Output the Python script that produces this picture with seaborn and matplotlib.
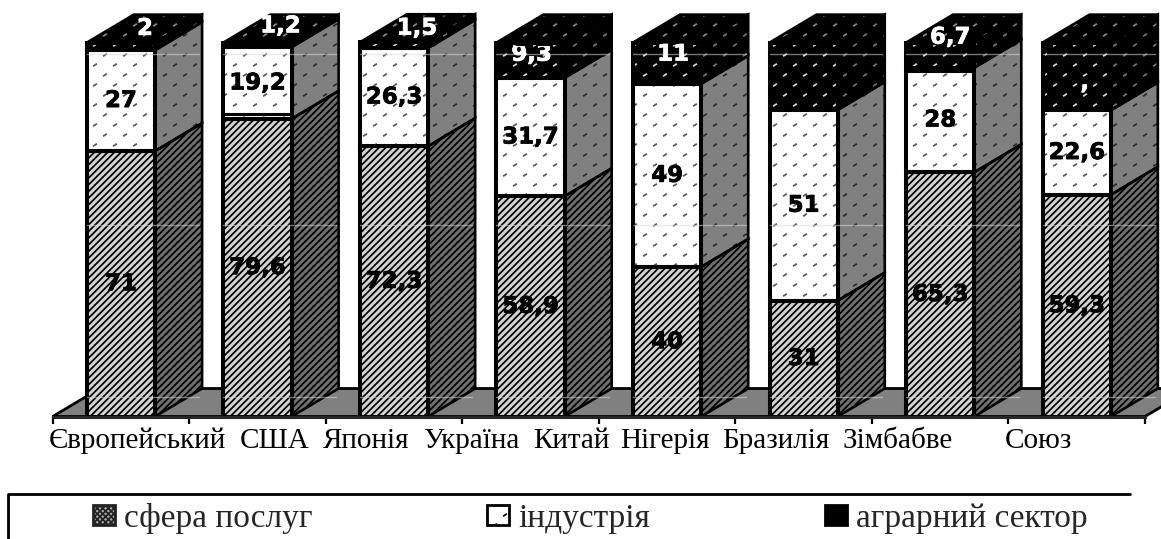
import matplotlib
matplotlib.use('Agg')
import numpy as np
import matplotlib.pyplot as plt
import matplotlib.hatch as mhatch
import matplotlib.patheffects as pe
import matplotlib.transforms as mtrans
from matplotlib.path import Path
from matplotlib.patches import Polygon, Patch
import seaborn as sns

sns.set_style('white')
plt.rcParams['font.family'] = ['Liberation Serif', 'DejaVu Serif']
plt.rcParams['hatch.linewidth'] = 1.25

countries = ['Європейський', 'США', 'Японія', 'Україна', 'Китай', 'Нігерія', 'Бразилія', 'Зімбабве', 'Союз']
bar_names = ['B1', 'B2', 'B3', 'B4', 'B5', 'B6', 'B7', 'B8']
services = [71, 79.6, 72.3, 58.9, 40, 31, 65.3, 59.3]
industry = [27, 19.2, 26.3, 31.7, 49, 51, 28, 22.6]
agrarian = [2, 1.2, 1.5, 9.4, 11, 18, 6.7, 18.1]

services_lab = ['71', '79,6', '72,3', '58,9', '40', '31', '65,3', '59,3']
industry_lab = ['27', '19,2', '26,3', '31,7', '49', '51', '28', '22,6']
agrarian_lab = ['2', '1,2', '1,5', '9,3', '11', '', '6,7', ',']
agrarian_off = [(24, 18), (23, 19), (23, 17), (1, 6), (6, 9), (0, 0), (10, 18), (8, -6)]

label_centres = [137.5, 275, 366, 471, 571, 665, 776, 898, 1038]
series_names = ['сфера послуг', 'індустрія', 'аграрний сектор']

W, H = 1161, 539
DX = 47 / 136.6
DY = 28 / 3.74


# small slanted flecks instead of the round '.' hatch, same look as the original fill
class Flecks(mhatch.HatchPatternBase):
    def __init__(self, hatch, density):
        self.on = '.' in hatch
        self.num_vertices = 2 * 5 * 10 if self.on else 0

    def set_vertices_and_codes(self, vertices, codes):
        if not self.on:
            return
        pts = []
        for row in range(10):
            for col in range(5):
                x = (col + 0.5 * (row % 2)) / 5 + 0.05
                y = row / 10 + 0.05
                pts += [(x - 0.012, y - 0.008), (x + 0.012, y + 0.008)]
        vertices[:] = np.array(pts)
        codes[0::2] = Path.MOVETO
        codes[1::2] = Path.LINETO


mhatch._hatch_types = [h for h in mhatch._hatch_types if h is not mhatch.SmallFilledCircles] + [Flecks]

fig = plt.figure(figsize=(W / 100, H / 100), dpi=100)
ax = fig.add_axes([52.7 / W, 1 - 416.5 / H, (1145 - 52.7) / W, 375 / H])

styles = [
    dict(face='#d4d4d4', hatch_col='#000000', hatch='/////', side='#707070', side_hatch='#000000', side_pat='/////'),
    dict(face='#ffffff', hatch_col='#555555', hatch='.', side='#808080', side_hatch='#2a2a2a', side_pat='.'),
    dict(face='#000000', hatch_col='#d8d8d8', hatch='.', side='#000000', side_hatch='#777777', side_pat='.'),
]

level1 = list(services)
level2 = [a + b for a, b in zip(services, industry)]
level3 = [a + b + c for a, b, c in zip(services, industry, agrarian)]

# tallest first, the lower bars cover it
for vals, st in zip([level3, level2, level1], styles[::-1]):
    sns.barplot(x=bar_names, y=vals, color=st['face'], saturation=1, width=0.5,
                linewidth=0, edgecolor=st['hatch_col'], hatch=st['hatch'], ax=ax, zorder=3)

ax.set_xlim(-0.5, 7.5)
ax.set_ylim(0, 100.3)

# floor
ax.add_patch(Polygon([(-0.5, 0), (-0.5 + DX, DY), (7.5 + DX, DY), (7.5, 0)], closed=True, facecolor='#808080',
                     edgecolor='black', linewidth=2, clip_on=False, zorder=1))

lowers = [[0] * 8, level1, level2]
uppers = [level1, level2, level3]
half = 0.25
for k, st in enumerate(styles):
    for i in range(8):
        lo, up = lowers[k][i], uppers[k][i]
        l, r = i - half, i + half
        quad = [(r, lo), (r + DX, lo + DY), (r + DX, up + DY), (r, up)]
        ax.add_patch(Polygon(quad, closed=True, facecolor=st['side'], edgecolor=st['side_hatch'],
                             hatch=st['side_pat'], linewidth=0, clip_on=False, zorder=3))
        ax.add_patch(Polygon(quad, closed=True, fill=False, edgecolor='black', linewidth=1.9,
                             clip_on=False, zorder=4))
        ax.add_patch(Polygon([(l, lo), (r, lo), (r, up), (l, up)], closed=True, fill=False,
                             edgecolor='black', linewidth=2.9, clip_on=False, zorder=4))

# lids
for i in range(8):
    l, r, up = i - half, i + half, level3[i]
    lid = [(l, up), (l + DX, up + DY), (r + DX, up + DY), (r, up)]
    ax.add_patch(Polygon(lid, closed=True, facecolor='black', edgecolor='#8a8a8a', hatch='.',
                         linewidth=0, clip_on=False, zorder=3))
    ax.add_patch(Polygon(lid, closed=True, fill=False, edgecolor='black', linewidth=1.9,
                         clip_on=False, zorder=4))
    # faint light lines across the bars
    for v in (5.3, 51.1, 97):
        ax.plot([l, r + DX - 0.02], [v, v], color='#d8d8d8', alpha=0.55, linewidth=1, zorder=5, clip_on=False)

# doubled rule under the black part on two bars
for i, v in [(1, 80.8), (6, 92.4)]:
    ax.plot([i - half, i + half], [v, v], color='black', linewidth=2.2, zorder=5)

# value labels
lab_kw = dict(ha='center', va='center', fontsize=16.5, fontweight='bold', family='DejaVu Sans', zorder=6,
              path_effects=[pe.withStroke(linewidth=0.5, foreground='black')])
white_kw = dict(lab_kw, path_effects=[pe.withStroke(linewidth=0.5, foreground='white')])
for i in range(8):
    ax.text(i, services[i] / 2, services_lab[i], color='black', **lab_kw)
    ax.text(i, services[i] + industry[i] / 2, industry_lab[i], color='black', **lab_kw)
    ox, oy = agrarian_off[i]
    tr = mtrans.offset_copy(ax.transData, fig=fig, x=ox, y=oy, units='dots')
    t = ax.text(i, level2[i] + agrarian[i] / 2, agrarian_lab[i], transform=tr, color='white', **white_kw)
    t.set_clip_on(False)
    if agrarian_lab[i] == '9,3':
        # top of this label is cut off in the original
        t.set_clip_box(mtrans.Bbox([[0, 0], [W, H - 46]]))
        t.set_clip_on(True)

# axis
for s in ['top', 'left', 'right']:
    ax.spines[s].set_visible(False)
ax.spines['bottom'].set_linewidth(2.2)
ax.spines['bottom'].set_zorder(5)
ax.set_yticks([])
ax.set_xticks(range(8))
ax.set_xticklabels([])
ax.tick_params(axis='x', which='major', length=0)
ax.set_xticks([i - 0.5 for i in range(9)], minor=True)
ax.tick_params(axis='x', which='minor', length=5, width=1.6, color='black', bottom=True)
ax.set_xlabel('')
ax.set_ylabel('')
ax.patch.set_alpha(0)

for name, cx in zip(countries, label_centres):
    fig.text(cx / W, 1 - 441 / H, name, ha='center', va='center', fontsize=21, color='black')

# legend frame: only top and left lines show
fig.add_artist(plt.Line2D([8 / W, 8 / W, 1130 / W], [0, 1 - 494 / H, 1 - 494 / H], color='black', linewidth=2))

handles = [
    Patch(facecolor='#aaaaaa', edgecolor='#222222', hatch='xxxxxx', linewidth=2),
    Patch(facecolor='white', edgecolor='black', hatch='.', linewidth=2),
    Patch(facecolor='black', edgecolor='black', linewidth=2),
]
fig.legend(handles, series_names, loc='center', bbox_to_anchor=(590 / W, 1 - 518 / H), ncol=3, frameon=False,
           fontsize=24, handlelength=0.66, handleheight=0.55, handletextpad=0.27, columnspacing=5.25,
           borderpad=0, borderaxespad=0)

fig.savefig('out.png', dpi=100)
